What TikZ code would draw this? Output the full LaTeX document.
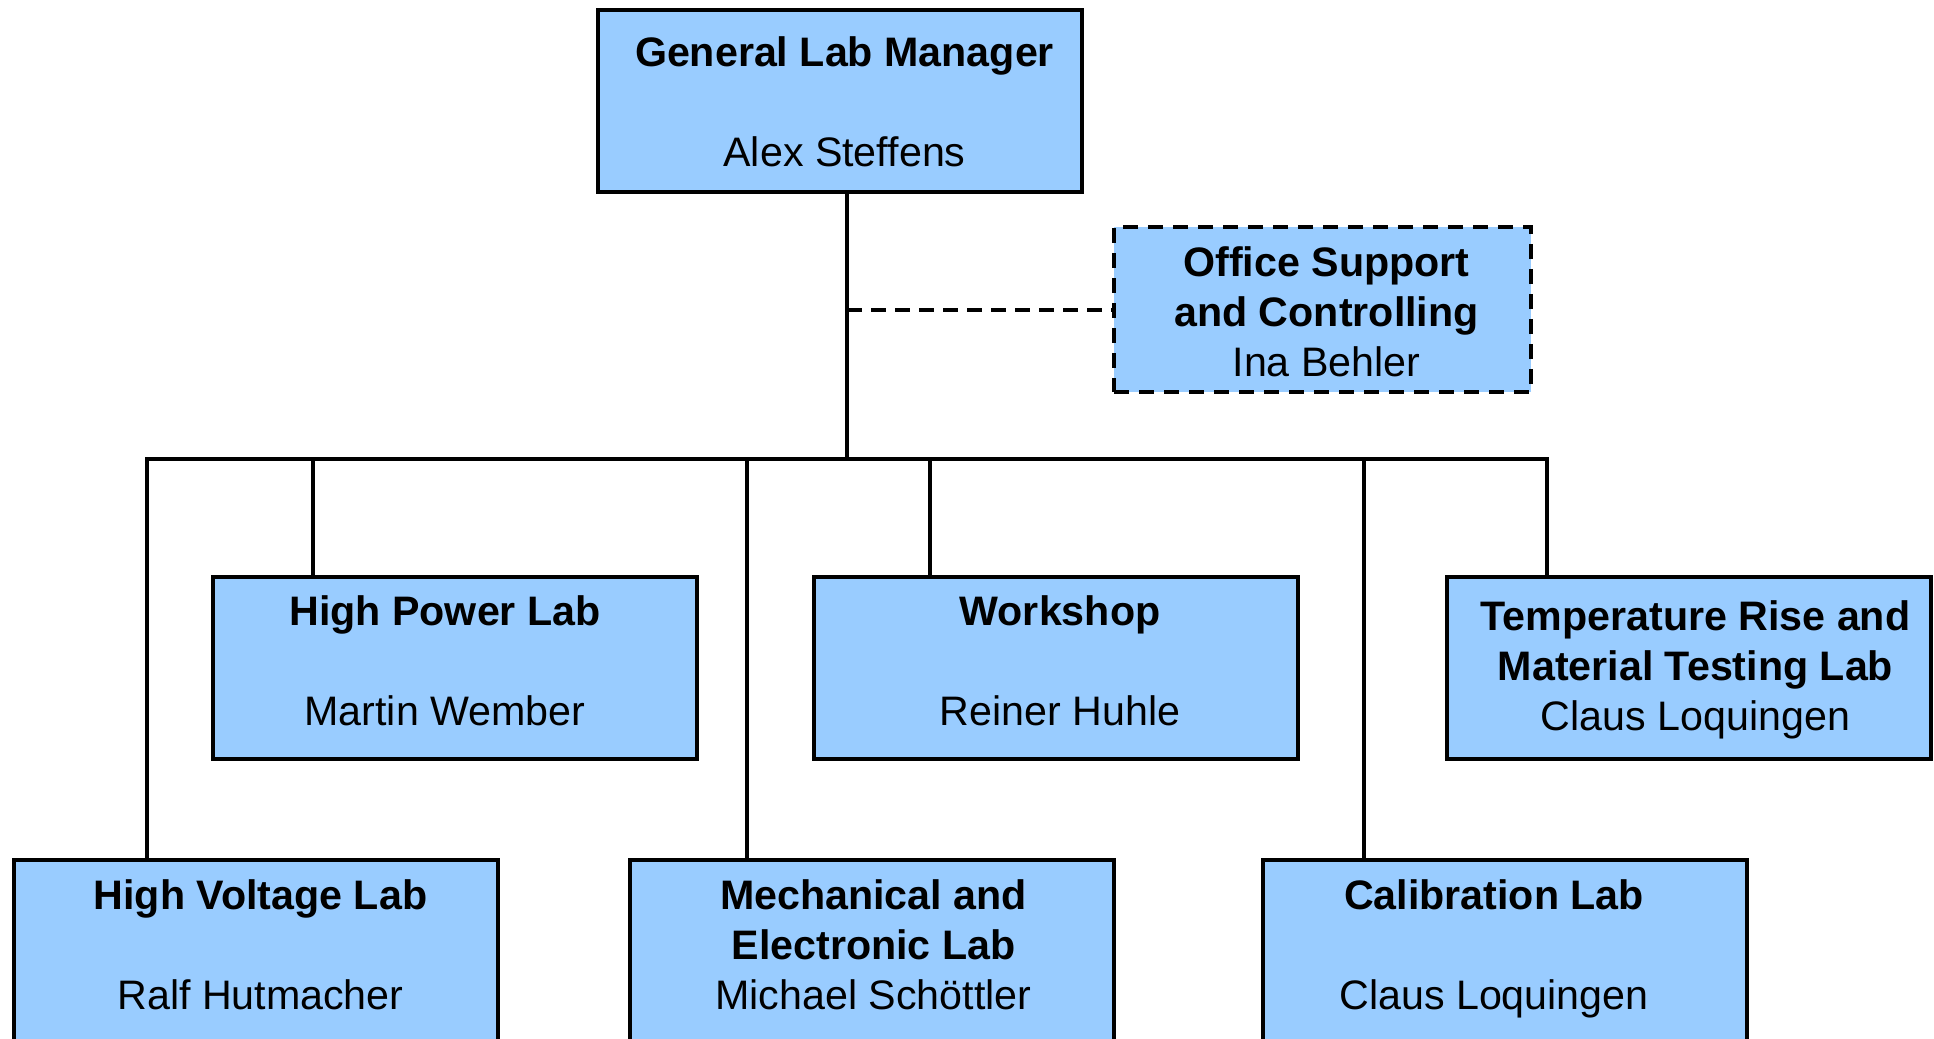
\documentclass[tikz,border=0pt]{standalone}
\usepackage{fontspec}
\setmainfont{Liberation Sans}
\definecolor{labblue}{RGB}{153,204,255}

\begin{document}
\begin{tikzpicture}[x=0.5pt,y=-0.5pt]
\tikzstyle{labbox}=[draw,fill=labblue,line width=2pt,minimum width=242pt,minimum height=91pt,inner sep=0pt];
\tikzstyle{staffbox}=[labbox,dash pattern=on 7.5pt off 5pt,minimum width=208.5pt,minimum height=82.5pt];
\tikzstyle{labtext}=[inner sep=0pt,align=center,font=\fontsize{20.6}{25}\selectfont];
\tikzstyle{link}=[line width=2pt];
\useasboundingbox (0,0) rectangle (1934,1039);
\clip (0,0) rectangle (1934,1039);

% management
\node[labbox] (glm) at (839.5,101) {};
\node[labtext] (glm-t) at ([shift={(5,5)}]glm.center) {\strut\textbf{General Lab Manager}\\[25pt]\strut Alex Steffens\strut};
\node[staffbox] (office) at (1322.5,309.5) {};
\node[labtext] (office-t) at ([shift={(4,7)}]office.center) {\strut\textbf{Office Support}\\\textbf{and Controlling}\\Ina Behler\strut};

% first row
\node[labbox] (hp) at (455,668) {};
\node[labtext] (hp-t) at ([shift={(-10,-3)}]hp.center) {\strut\textbf{High Power Lab}\\[25pt]\strut Martin Wember\strut};
\node[labbox] (ws) at (1056,668) {};
\node[labtext] (ws-t) at ([shift={(4,-3)}]ws.center) {\strut\textbf{Workshop}\\[25pt]\strut Reiner Huhle\strut};
\node[labbox] (trm) at (1688.5,668) {};
\node[labtext] (trm-t) at ([shift={(7,2)}]trm.center) {\strut\textbf{Temperature Rise and}\\\textbf{Material Testing Lab}\\Claus Loquingen\strut};

% second row
\node[labbox] (hv) at (255.5,950.5) {};
\node[labtext] (hv-t) at ([shift={(5,-1)}]hv.center) {\strut\textbf{High Voltage Lab}\\[25pt]\strut Ralf Hutmacher\strut};
\node[labbox] (mel) at (871.5,950.5) {};
\node[labtext] (mel-t) at ([shift={(2,-1)}]mel.center) {\strut\textbf{Mechanical and}\\\textbf{Electronic Lab}\\Michael Schöttler\strut};
\node[labbox] (cal) at (1505,950.5) {};
\node[labtext] (cal-t) at ([shift={(-11,-1)}]cal.center) {\strut\textbf{Calibration Lab}\\[25pt]\strut Claus Loquingen\strut};

% bus
\coordinate (hub) at (847,459);
\coordinate (jhv) at (147,459);
\coordinate (jhp) at (313,459);
\coordinate (jmel) at (747,459);
\coordinate (jws) at (930,459);
\coordinate (jcal) at (1364,459);
\coordinate (jtrm) at (1547,459);

\draw[link] (hub |- glm.south) -- (hub);
\draw[link,dash pattern=on 7.5pt off 4.5pt] (hub |- office.west) -- (office.west);
\draw[link] (jhv |- hv.north) -- (jhv) -- (jtrm) -- (jtrm |- trm.north);
\draw[link] (jhp) -- (jhp |- hp.north);
\draw[link] (jmel) -- (jmel |- mel.north);
\draw[link] (jws) -- (jws |- ws.north);
\draw[link] (jcal) -- (jcal |- cal.north);
\end{tikzpicture}
\end{document}
